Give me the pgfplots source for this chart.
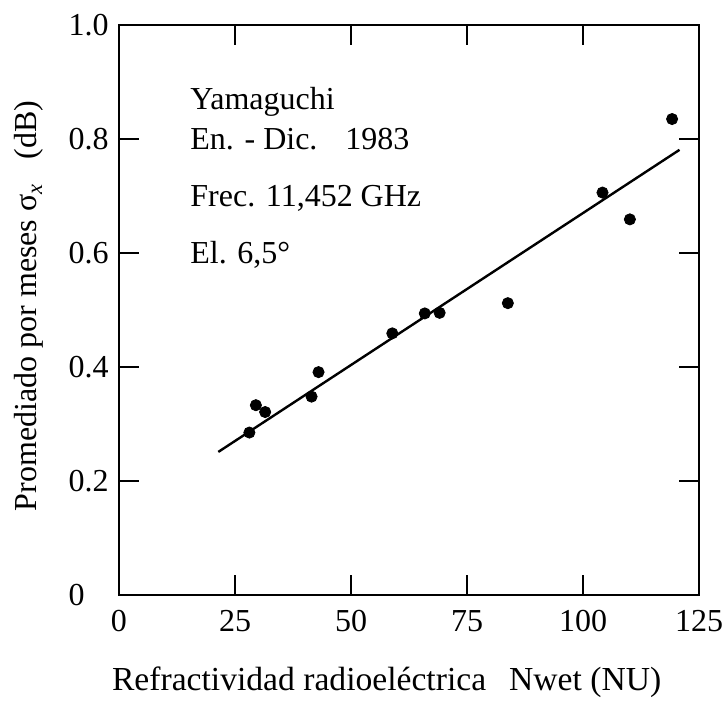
\documentclass[border=0pt]{standalone}
\usepackage{fontspec}
\setmainfont{Liberation Serif}
\usepackage{pgfplots}
\pgfplotsset{compat=1.18}
\begin{document}
\begin{tikzpicture}
\begin{axis}[
  scale only axis, width=290pt, height=285pt,
  xmin=0, xmax=125, ymin=0, ymax=1,
  xtick={0,25,50,75,100,125},
  ytick={0,0.2,0.4,0.6,0.8,1.0},
  yticklabels={0,0.2,0.4,0.6,0.8,1.0},
  tick align=inside, tick pos=both,
  major tick length=10pt,
  axis line style={line width=1.4pt},
  tick style={line width=1.1pt, black},
  font=\fontsize{16}{19}\selectfont,
  /pgf/number format/assume math mode=true,
  yticklabel style={anchor=east, text width=20pt, align=left, inner sep=0pt, xshift=-5pt},
  xticklabel style={yshift=-4pt},
  xlabel={Refractividad radioeléctrica\hspace{11.5pt}Nwet (NU)},
  xlabel style={at={(axis description cs:0,0)}, anchor=base west, xshift=-7pt, yshift=-47.5pt, font=\fontsize{16.8}{20}\selectfont},
  ylabel={Promediado por meses σ\textsubscript{\textit{x}}\hspace{12pt}(dB)},
  ylabel style={at={(axis description cs:-0.1414,0.507)}, anchor=base},
]
\addplot[line width=1.2pt] coordinates {(21.4,0.251)(120.8,0.781)};
\addplot[only marks, mark=*, mark size=2.8pt, black] coordinates {
(28.1,0.285)(29.5,0.333)(31.5,0.321)(41.5,0.348)(43.0,0.391)
(58.9,0.459)(65.9,0.494)(69.1,0.495)(83.8,0.512)
(104.2,0.706)(110.1,0.659)(119.2,0.835)};
\node[anchor=base west, inner sep=0pt] at (axis cs:15.3,0.851) {Yamaguchi};
\node[anchor=base west, inner sep=0pt] at (axis cs:15.3,0.782) {En. - Dic.};
\node[anchor=base west, inner sep=0pt] at (axis cs:48.7,0.782) {1983};
\node[anchor=base west, inner sep=0pt] at (axis cs:15.3,0.681) {Frec. 11,452 GHz};
\node[anchor=base west, inner sep=0pt] at (axis cs:15.3,0.582) {El. 6,5°};
\end{axis}
\pgfresetboundingbox
\useasboundingbox (current axis.south west) ++(-59.5pt,-52.5pt) rectangle ++(363pt,350pt);
\end{tikzpicture}
\end{document}
